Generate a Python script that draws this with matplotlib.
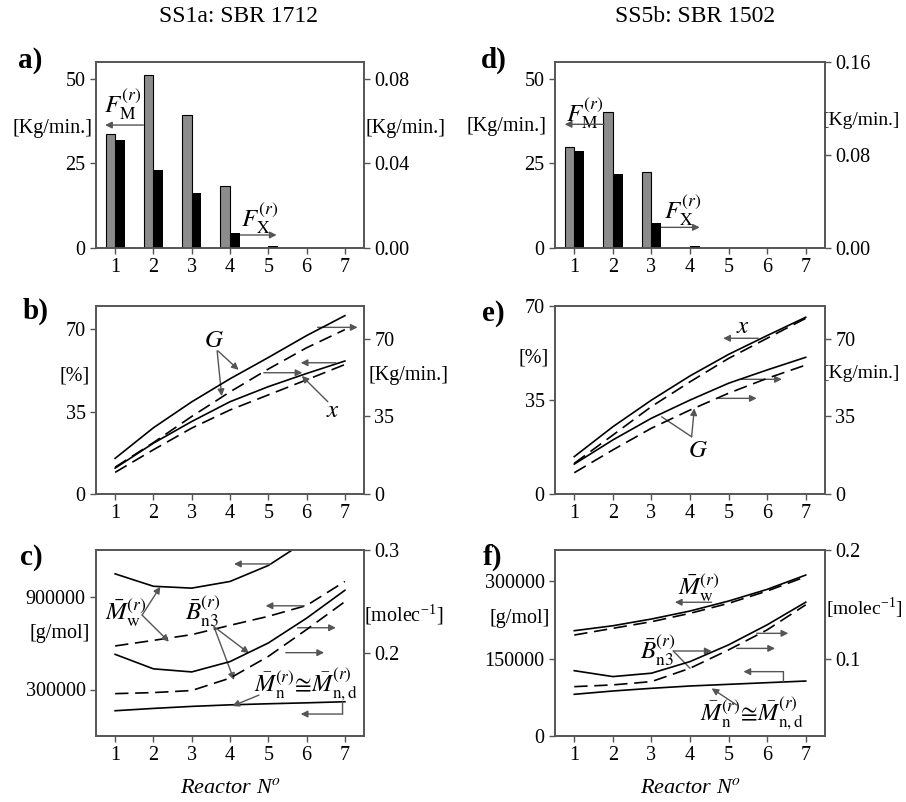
import matplotlib.pyplot as plt

plt.rcParams['font.family'] = ['Liberation Serif', 'DejaVu Serif']
plt.rcParams['mathtext.fontset'] = 'stix'
plt.rcParams['font.size'] = 14

reactors = [1, 2, 3, 4, 5, 6, 7]

# a) SS1a: SBR 1712 - feed flows [Kg/min.]
fm_1712 = [33.8, 51.3, 39.4, 18.4, 0, 0, 0]
fx_1712 = [0.0512, 0.0367, 0.026, 0.007, 0.0008, 0, 0]
# d) SS5b: SBR 1502
fm_1502 = [30.0, 40.3, 22.4, 0, 0, 0, 0]
fx_1502 = [0.0837, 0.0634, 0.0215, 0.0017, 0, 0, 0]

# b) conversion x [%] and G [Kg/min.], SBR 1712
x_1712_solid = [11.0, 21.6, 30.8, 39.2, 45.6, 51.2, 56.5]
x_1712_dash = [9.2, 18.8, 28.0, 35.7, 42.1, 48.5, 55.0]
g_1712_solid = [16.1, 29.9, 41.6, 52.0, 61.6, 71.5, 80.5]
g_1712_dash = [12.1, 23.2, 35.0, 46.1, 56.4, 66.0, 74.2]
# e) SBR 1502
x_1502_solid = [13.9, 25.0, 34.9, 43.9, 51.9, 58.9, 65.7]
x_1502_dash = [11.4, 21.9, 32.5, 41.7, 50.4, 57.9, 65.3]
g_1502_solid = [13.5, 24.4, 34.2, 42.4, 50.0, 56.0, 61.7]
g_1502_dash = [9.6, 19.9, 29.7, 37.9, 45.5, 52.2, 58.2]

# c) molecular weights [g/mol] and branching [molec^-1], SBR 1712
mw_1712_solid = [1046000, 966000, 954000, 997000, 1100000, 1260000, 1450000]
mw_1712_dash = [581000, 617000, 654000, 714000, 772000, 842000, 997000]
bn3_1712_solid = [0.199, 0.185, 0.182, 0.192, 0.210, 0.234, 0.261]
bn3_1712_dash = [0.161, 0.162, 0.164, 0.176, 0.197, 0.223, 0.250]
mn_1712 = [163000, 178000, 191000, 201000, 208000, 214000, 221000]
# f) SBR 1502
mw_1502_solid = [203800, 213400, 226400, 241900, 261200, 283800, 311500]
mw_1502_dash = [195400, 208400, 221200, 237400, 256800, 280600, 308300]
bn3_1502_solid = [0.0897, 0.0843, 0.0874, 0.098, 0.1133, 0.1316, 0.1523]
bn3_1502_dash = [0.0751, 0.0767, 0.0797, 0.0919, 0.1087, 0.127, 0.1499]
mn_1502 = [80700, 87100, 92300, 96800, 100000, 103200, 106400]

GREY = '#555555'
MW = r'$\bar{M}_{\mathrm{w}}^{(r)}$'
BN3 = r'$\bar{B}_{\mathrm{n3}}^{(r)}$'
MN = r'$\bar{M}_{\mathrm{n}}^{(r)}\!\cong\!\bar{M}_{\mathrm{n,d}}^{(r)}$'

fig = plt.figure(figsize=(9.06, 8.02), dpi=100)

L1, W1 = 96 / 906, 268 / 906
L2, W2 = 555 / 906, 270 / 906
rows = [(1 - 248 / 802, 186 / 802), (1 - 494 / 802, 188.3 / 802), (1 - 736 / 802, 186 / 802)]


def make_axes(left, width, row):
    b, h = rows[row]
    ax = fig.add_axes([left, b, width, h])
    ax2 = ax.twinx()
    for a in (ax, ax2):
        for s in a.spines.values():
            s.set_color(GREY)
            s.set_linewidth(1.2)
        a.tick_params(direction='out', length=4, width=1, color=GREY, labelsize=14.5)
    ax.set_xlim(0.5, 7.5)
    ax.set_xticks(reactors)
    return ax, ax2


def arrow(ax, x0, y0, x1, y1, head=True):
    ax.annotate('', xy=(x1, y1), xytext=(x0, y0), xycoords='axes fraction',
                arrowprops=dict(arrowstyle='-|>' if head else '-', color=GREY, lw=1,
                                mutation_scale=10, shrinkA=0, shrinkB=0))


def label(ax, x, y, s, size=14.5, **kw):
    ax.text(x, y, s, transform=ax.transAxes, ha='center', va='center', fontsize=size, **kw)


def curves(ax, y_solid, y_dash):
    ax.plot(reactors, y_solid, color='black', lw=1.2)
    ax.plot(reactors, y_dash, color='black', lw=1.2, dashes=(8, 4))


# ---- a) ----
ax, ax2 = make_axes(L1, W1, 0)
ax.bar([r - 0.125 for r in reactors], fm_1712, width=0.25, color='#8c8c8c', edgecolor='black', lw=0.8)
ax2.bar([r + 0.125 for r in reactors], fx_1712, width=0.25, color='black')
ax.set_ylim(0, 55)
ax.set_yticks([0, 25, 50])
ax2.set_ylim(0, 0.088)
ax2.set_yticks([0, 0.04, 0.08])
ax2.set_yticklabels(['0.00', '0.04', '0.08'])
label(ax, -0.164, 0.645, '[Kg/min.]')
label(ax, 1.153, 0.645, '[Kg/min.]')
label(ax, 0.101, 0.77, r'$F_{\mathrm{M}}^{(r)}$', 18)
arrow(ax, 0.177, 0.661, 0.034, 0.661)
label(ax, 0.612, 0.16, r'$F_{\mathrm{X}}^{(r)}$', 18)
arrow(ax, 0.537, 0.07, 0.674, 0.07)
label(ax, -0.246, 1.01, 'a)', 21, fontweight='bold')
label(ax, 0.53, 1.245, 'SS1a: SBR 1712', 17)

# ---- d) ----
ax, ax2 = make_axes(L2, W2, 0)
ax.bar([r - 0.125 for r in reactors], fm_1502, width=0.25, color='#8c8c8c', edgecolor='black', lw=0.8)
ax2.bar([r + 0.125 for r in reactors], fx_1502, width=0.25, color='black')
ax.set_ylim(0, 55)
ax.set_yticks([0, 25, 50])
ax2.set_ylim(0, 0.16)
ax2.set_yticks([0, 0.08, 0.16])
ax2.set_yticklabels(['0.00', '0.08', '0.16'])
label(ax, -0.18, 0.652, '[Kg/min.]')
label(ax, 1.135, 0.688, '[Kg/min.]', 14)
label(ax, 0.11, 0.725, r'$F_{\mathrm{M}}^{(r)}$', 18)
arrow(ax, 0.184, 0.665, 0.036, 0.665)
label(ax, 0.474, 0.2, r'$F_{\mathrm{X}}^{(r)}$', 18)
arrow(ax, 0.394, 0.111, 0.536, 0.111)
label(ax, -0.226, 1.01, 'd)', 21, fontweight='bold')
label(ax, 0.52, 1.245, 'SS5b: SBR 1502', 17)

# ---- b) ----
ax, ax2 = make_axes(L1, W1, 1)
curves(ax, x_1712_solid, x_1712_dash)
curves(ax2, g_1712_solid, g_1712_dash)
ax.set_ylim(0, 80)
ax.set_yticks([0, 35, 70])
ax2.set_ylim(0, 85)
ax2.set_yticks([0, 35, 70])
label(ax, -0.081, 0.627, '[%]')
label(ax, 1.166, 0.627, '[Kg/min.]')
arrow(ax, 0.827, 0.885, 0.976, 0.885)
arrow(ax, 0.895, 0.697, 0.764, 0.697)
arrow(ax, 0.626, 0.644, 0.770, 0.644)
label(ax, 0.439, 0.812, r'$G$', 18)
arrow(ax, 0.455, 0.76, 0.532, 0.659)
arrow(ax, 0.452, 0.76, 0.469, 0.52)
label(ax, 0.884, 0.44, r'$x$', 18)
arrow(ax, 0.865, 0.49, 0.768, 0.627)
label(ax, -0.227, 0.972, 'b)', 21, fontweight='bold')

# ---- e) ----
ax, ax2 = make_axes(L2, W2, 1)
curves(ax, x_1502_solid, x_1502_dash)
curves(ax2, g_1502_solid, g_1502_dash)
ax.set_ylim(0, 70)
ax.set_yticks([0, 35, 70])
ax2.set_ylim(0, 85)
ax2.set_yticks([0, 35, 70])
label(ax, -0.081, 0.72, '[%]')
label(ax, 1.135, 0.641, '[Kg/min.]', 14)
label(ax, 0.697, 0.885, r'$x$', 18)
arrow(ax, 0.753, 0.827, 0.623, 0.827)
arrow(ax, 0.691, 0.609, 0.84, 0.609)
arrow(ax, 0.605, 0.508, 0.747, 0.508)
label(ax, 0.531, 0.23, r'$G$', 18)
arrow(ax, 0.506, 0.304, 0.395, 0.41, head=False)
arrow(ax, 0.506, 0.304, 0.516, 0.455)
label(ax, -0.23, 0.961, 'e)', 21, fontweight='bold')

# ---- c) ----
ax, ax2 = make_axes(L1, W1, 2)
curves(ax, mw_1712_solid, mw_1712_dash)
ax.plot(reactors, mn_1712, color='black', lw=1.2)
curves(ax2, bn3_1712_solid, bn3_1712_dash)
ax.set_ylim(0, 1200000)
ax.set_yticks([300000, 900000])
ax2.set_ylim(0.12, 0.3)
ax2.set_yticks([0.2, 0.3])
label(ax, -0.137, 0.552, '[g/mol]')
label(ax, 1.147, 0.651, r'[molec$^{\mathregular{-1}}$]')
arrow(ax, 0.652, 0.925, 0.515, 0.925)
arrow(ax, 0.777, 0.70, 0.633, 0.70)
arrow(ax, 0.752, 0.582, 0.895, 0.582)
arrow(ax, 0.708, 0.448, 0.851, 0.448)
arrow(ax, 0.92, 0.184, 0.92, 0.118, head=False)
arrow(ax, 0.92, 0.118, 0.764, 0.118)
label(ax, 0.11, 0.668, MW, 18)
arrow(ax, 0.172, 0.65, 0.24, 0.803)
arrow(ax, 0.172, 0.65, 0.272, 0.507)
label(ax, 0.397, 0.668, BN3, 18)
arrow(ax, 0.44, 0.588, 0.571, 0.445)
arrow(ax, 0.44, 0.588, 0.515, 0.301)
label(ax, 0.783, 0.274, MN, 17.5)
arrow(ax, 0.608, 0.22, 0.509, 0.161)
label(ax, -0.242, 0.962, 'c)', 21, fontweight='bold')
label(ax, 0.5, -0.28, r'Reactor N$^{o}$', 16, style='italic')

# ---- f) ----
ax, ax2 = make_axes(L2, W2, 2)
curves(ax, mw_1502_solid, mw_1502_dash)
ax.plot(reactors, mn_1502, color='black', lw=1.2)
curves(ax2, bn3_1502_solid, bn3_1502_dash)
ax.set_ylim(0, 360000)
ax.set_yticks([0, 150000, 300000])
ax2.set_ylim(0.03, 0.2)
ax2.set_yticks([0.1, 0.2])
label(ax, -0.131, 0.633, '[g/mol]')
label(ax, 1.145, 0.686, r'[molec$^{\mathregular{-1}}$]', 14)
label(ax, 0.531, 0.80, MW, 18)
arrow(ax, 0.58, 0.719, 0.444, 0.719)
label(ax, 0.382, 0.462, BN3, 18)
arrow(ax, 0.438, 0.457, 0.58, 0.457)
arrow(ax, 0.438, 0.457, 0.5, 0.364, head=False)
arrow(ax, 0.747, 0.552, 0.864, 0.552)
arrow(ax, 0.673, 0.471, 0.815, 0.471)
arrow(ax, 0.846, 0.292, 0.846, 0.346, head=False)
arrow(ax, 0.846, 0.346, 0.698, 0.346)
label(ax, 0.728, 0.12, MN, 17.5)
arrow(ax, 0.673, 0.167, 0.58, 0.256)
label(ax, -0.233, 0.962, 'f)', 21, fontweight='bold')
label(ax, 0.5, -0.28, r'Reactor N$^{o}$', 16, style='italic')

fig.savefig('out.png', dpi=100)
